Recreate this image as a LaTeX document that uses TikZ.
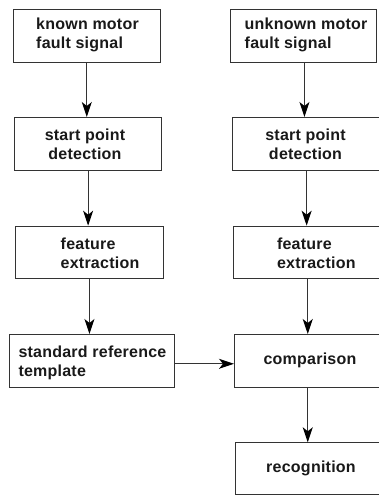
\documentclass[tikz,border=0pt]{standalone}
\usepackage{fontspec}
\setmainfont{Liberation Sans}[LetterSpace=1.5]
\usetikzlibrary{arrows.meta}
\tikzset{
  box/.style={draw=black!80, line width=0.9pt, inner sep=0pt, anchor=north west},
  lbl/.style={font=\bfseries\fontsize{16}{19}\selectfont, text=black!90, inner sep=0pt},
  flow/.style={draw=black!80, line width=0.9pt,
    -{Stealth[length=15pt,width=10pt,inset=4pt,line width=1.2pt,color=black]}}
}
\begin{document}
\begin{tikzpicture}[x=1pt,y=-1pt]
\useasboundingbox (0,0) rectangle (378,495);
% left column
\node[box, minimum width=147.3pt, minimum height=52.7pt] (L1) at (12.7,9) {};
\node[box, minimum width=147.3pt, minimum height=53pt] (L2) at (14,117) {};
\node[box, minimum width=147.4pt, minimum height=52.6pt] (L3) at (15.3,225.7) {};
\node[box, minimum width=164.7pt, minimum height=52.7pt] (L4) at (9,334) {};
% right column (boxes run past the right border)
\node[box, minimum width=146pt, minimum height=52.7pt] (R1) at (230.3,9) {};
\node[box, minimum width=150pt, minimum height=53pt] (R2) at (231.7,117) {};
\node[box, minimum width=150pt, minimum height=52.6pt] (R3) at (233,225.7) {};
\node[box, minimum width=152pt, minimum height=52.7pt] (R4) at (234,334) {};
\node[box, minimum width=152pt, minimum height=52pt] (R5) at (235.3,442.3) {};
% labels
\node[lbl, align=left, anchor=west] (tL1) at (36,35.3) {known motor\\fault signal};
\node[lbl, align=center] (tL2) at (85,144) {start point\\detection};
\node[lbl, align=left, anchor=west] (tL3) at (60.5,253.5) {feature\\extraction};
\node[lbl, align=left, anchor=west] (tL4) at (18.3,362.5) {standard reference\\template};
\node[lbl, align=left, anchor=west] (tR1) at (244.5,35.3) {unknown motor\\fault signal};
\node[lbl, align=center] (tR2) at (305.5,144) {start point\\detection};
\node[lbl, align=left, anchor=west] (tR3) at (276.8,253.5) {feature\\extraction};
\node[lbl] (tR4) at (310,360) {comparison};
\node[lbl] (tR5) at (311,468.5) {recognition};
% connectors
\draw[flow] (L1.south) -- (L1.south |- L2.north);
\draw[flow] (L2.south) -- (L2.south |- L3.north);
\draw[flow] (L3.south) -- (L3.south |- L4.north);
\draw[flow] ([xshift=0.7pt]R1.south) -- ([xshift=0.7pt]R1.south |- R2.north);
\draw[flow] ([xshift=-0.5pt]R2.south) -- ([xshift=-0.5pt]R2.south |- R3.north);
\draw[flow] ([xshift=-0.7pt]R3.south) -- ([xshift=-0.7pt]R3.south |- R4.north);
\draw[flow] ([xshift=-2.7pt]R4.south) -- ([xshift=-2.7pt]R4.south |- R5.north);
\draw[flow] ([yshift=-3pt]L4.east) -- ([yshift=-3pt]L4.east -| R4.west);
\end{tikzpicture}
\end{document}
